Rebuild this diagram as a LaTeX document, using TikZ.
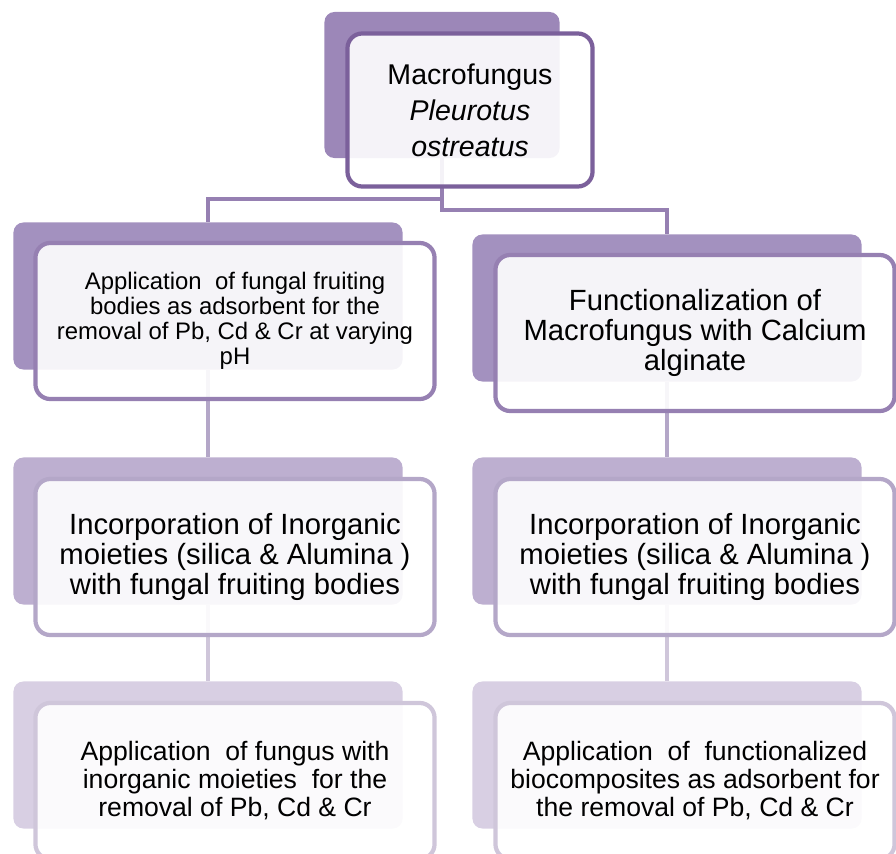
\documentclass[tikz,border=0pt]{standalone}
\usepackage{fontspec}
\setmainfont{Liberation Sans}
\definecolor{backA}{RGB}{156,135,184}
\definecolor{lineA}{RGB}{123,96,155}
\definecolor{backB}{RGB}{163,145,191}
\definecolor{lineB}{RGB}{150,128,178}
\definecolor{backC}{RGB}{189,175,208}
\definecolor{lineC}{RGB}{180,167,200}
\definecolor{backD}{RGB}{216,207,227}
\definecolor{lineD}{RGB}{207,198,218}
\tikzset{
  backbox/.style={fill=#1, rounded corners=0.25cm, inner sep=0pt,
    minimum width=9.725cm, minimum height=3.675cm},
  frontbox/.style={draw=#1, line width=3pt, fill=white, fill opacity=0.9,
    text opacity=1, rounded corners=0.37cm, inner sep=0pt, align=center,
    minimum width=9.975cm, minimum height=3.9cm},
  link/.style={draw=#1, line width=3pt},
  bigtext/.style={font=\fontsize{20.8}{21.3}\selectfont},
  midtext/.style={font=\fontsize{18.9}{19.9}\selectfont},
  smalltext/.style={font=\fontsize{17}{17.8}\selectfont}
}
\begin{document}
\begin{tikzpicture}[x=0.025cm,y=-0.025cm]
\useasboundingbox (0,0) rectangle (896,854);
\clip (0,0) rectangle (896,854);
\node[backbox=backA, minimum width=5.875cm, minimum height=3.65cm] (topback) at (442,85) {};
\node[backbox=backB] (lback) at (208,296) {};
\node[backbox=backB] (rback) at (667,308) {};
\node[backbox=backC] (lmidback) at (208,531) {};
\node[backbox=backC] (rmidback) at (667,531) {};
\node[backbox=backD] (llowback) at (208,755) {};
\node[backbox=backD] (rlowback) at (667,755) {};
\draw[link=lineB] (topback.south) -- ++(0,41) -| (lback.north);
\draw[link=lineB] (topback.south) -- ++(0,52) -| (rback.north);
\draw[link=lineC] (lback.south) -- (lmidback.north);
\draw[link=lineC] (rback.south) -- (rmidback.north);
\draw[link=lineD] (lmidback.south) -- (llowback.north);
\draw[link=lineD] (rmidback.south) -- (rlowback.north);
\node[frontbox=lineA, minimum width=6.125cm, minimum height=3.825cm,
  font=\fontsize{20.3}{25.6}\selectfont] (top) at ([shift={(28,25)}]topback.center)
  {Macrofungus\\ \textit{Pleurotus}\\ \textit{ostreatus}};
\node[frontbox=lineB, smalltext] (left) at ([shift={(27,25)}]lback.center)
  {Application \ of fungal fruiting\\ bodies as adsorbent for the\\ removal of Pb, Cd \& Cr at varying\\ pH};
\node[frontbox=lineB, bigtext] (right) at ([shift={(28,25)}]rback.center)
  {Functionalization of\\ Macrofungus with Calcium\\ alginate};
\node[frontbox=lineC, bigtext] (leftmid) at ([shift={(27,26)}]lmidback.center)
  {Incorporation of Inorganic\\ moieties (silica \& Alumina )\\ with fungal fruiting bodies};
\node[frontbox=lineC, bigtext] (rightmid) at ([shift={(28,26)}]rmidback.center)
  {Incorporation of Inorganic\\ moieties (silica \& Alumina )\\ with fungal fruiting bodies};
\node[frontbox=lineD, midtext] (leftlow) at ([shift={(27,26)}]llowback.center)
  {Application \ of fungus with\\ inorganic moieties \ for the\\ removal of Pb, Cd \& Cr};
\node[frontbox=lineD, midtext] (rightlow) at ([shift={(28,26)}]rlowback.center)
  {Application \ of \ functionalized\\ biocomposites as adsorbent for\\ the removal of Pb, Cd \& Cr};
\end{tikzpicture}
\end{document}
